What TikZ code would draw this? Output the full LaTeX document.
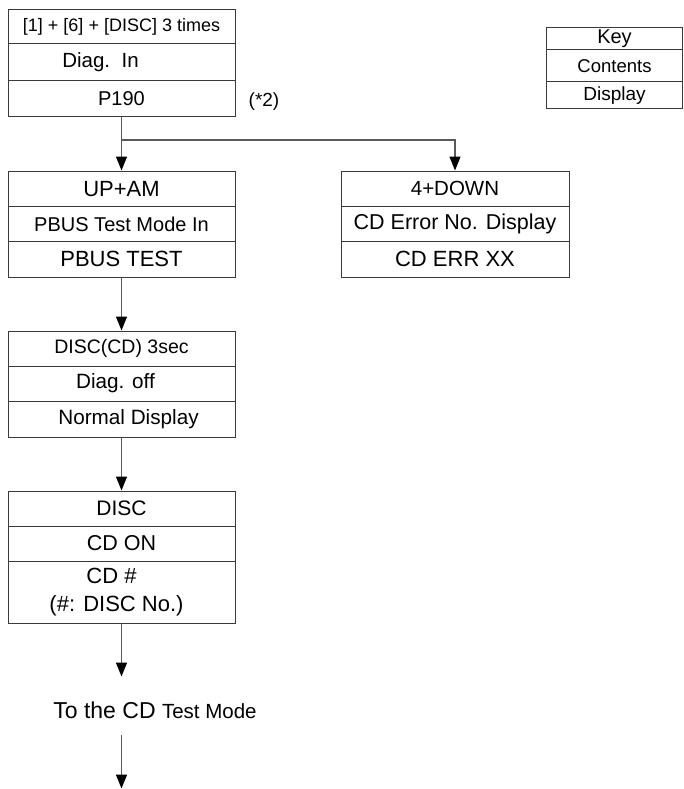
\documentclass[tikz,border=0pt]{standalone}
\usepackage{fontspec}
\setmainfont{Liberation Sans}
\usetikzlibrary{arrows.meta}
\definecolor{boxc}{HTML}{3A3A3A}
\definecolor{linec}{HTML}{5A5A5A}
\newcommand\fsz[1]{\fontsize{#1}{28}\selectfont}
\begin{document}
\begin{tikzpicture}[x=1pt,y=-1pt,
  row/.style={draw=boxc, line width=1pt, inner sep=0pt, anchor=center, align=center},
  lbox/.style={row, minimum width=227pt},
  rbox/.style={row, minimum width=228pt},
  kbox/.style={row, minimum width=136pt},
  conn/.style={draw=linec, line width=1.3pt},
  arr/.style={conn, -{Triangle[width=11pt,length=14pt,fill=black,color=black]}}]
\useasboundingbox (0,0) rectangle (684,789);
% Box A
\node[lbox, minimum height=34pt, font=\fsz{18}] (a1) at (121.5,27) {[1] + [6] + [DISC] 3 times};
\node[lbox, minimum height=37pt, font=\fsz{20.5}] (a2) at (121.5,62.5) {Diag.\ \ In\hspace*{42pt}};
\node[lbox, minimum height=36pt, font=\fsz{20}] (a3) at (121.5,99) {P190};
\node[font=\fsz{19}, inner sep=0pt] (n2) at (264,102) {(*2)};
% Key
\node[kbox, minimum height=22pt, font=\fsz{20}] (k1) at (614.5,39) {Key};
\node[kbox, minimum height=32pt, font=\fsz{18.5}] (k2) at (614.5,66) {Contents};
\node[kbox, minimum height=27pt, font=\fsz{19}] (k3) at (614.5,95.5) {Display};
% Box B
\node[lbox, minimum height=35.5pt, font=\fsz{22}] (b1) at (121.5,188.75) {UP+AM};
\node[lbox, minimum height=35pt, font=\fsz{20}] (b2) at (121.5,224) {PBUS Test Mode In};
\node[lbox, minimum height=35.5pt, font=\fsz{22}] (b3) at (121.5,259.25) {PBUS TEST};
% Box C
\node[rbox, minimum height=35.5pt, font=\fsz{20.5}] (c1) at (455,188.75) {4+DOWN};
\node[rbox, minimum height=35pt, font=\fsz{21.5}] (c2) at (455,224) {CD Error No. Display};
\node[rbox, minimum height=35.5pt, font=\fsz{22}] (c3) at (455,259.25) {CD ERR XX};
% Box D
\node[lbox, minimum height=35pt, font=\fsz{19.5}] (d1) at (121.5,348.5) {DISC(CD) 3sec};
\node[lbox, minimum height=35pt, font=\fsz{20.7}] (d2) at (121.5,383.5) {Diag. off\hspace*{12pt}};
\node[lbox, minimum height=36pt, font=\fsz{20.7}] (d3) at (121.5,419) {\hspace*{14pt}Normal Display};
% Box E
\node[lbox, minimum height=35pt, font=\fsz{21}] (e1) at (121.5,508.5) {DISC};
\node[lbox, minimum height=35pt, font=\fsz{21.5}] (e2) at (121.5,543.5) {CD ON};
\node[lbox, minimum height=62pt, font=\fsz{22}] (e3) at (121.5,592) {CD \#\hspace*{20pt}\\(\#: DISC No.)\hspace*{10pt}};
% Final text
\node[inner sep=0pt] (t) at (155,710) {\fsz{23}To the CD \fsz{20.5}Test Mode};
\coordinate (s) at (121.5,140);
\coordinate (t1) at (121.5,676.5);
\coordinate (t2) at (121.5,735);
\coordinate (t3) at (121.5,788.5);
% Connectors
\draw[conn] (a3.south) -- (s);
\draw[arr] (s) -- (b1.north);
\draw[arr] (s) -| (c1.north);
\draw[arr] (b3.south) -- (d1.north);
\draw[arr] (d3.south) -- (e1.north);
\draw[arr] (e3.south) -- (t1);
\draw[arr] (t2) -- (t3);
\end{tikzpicture}
\end{document}
